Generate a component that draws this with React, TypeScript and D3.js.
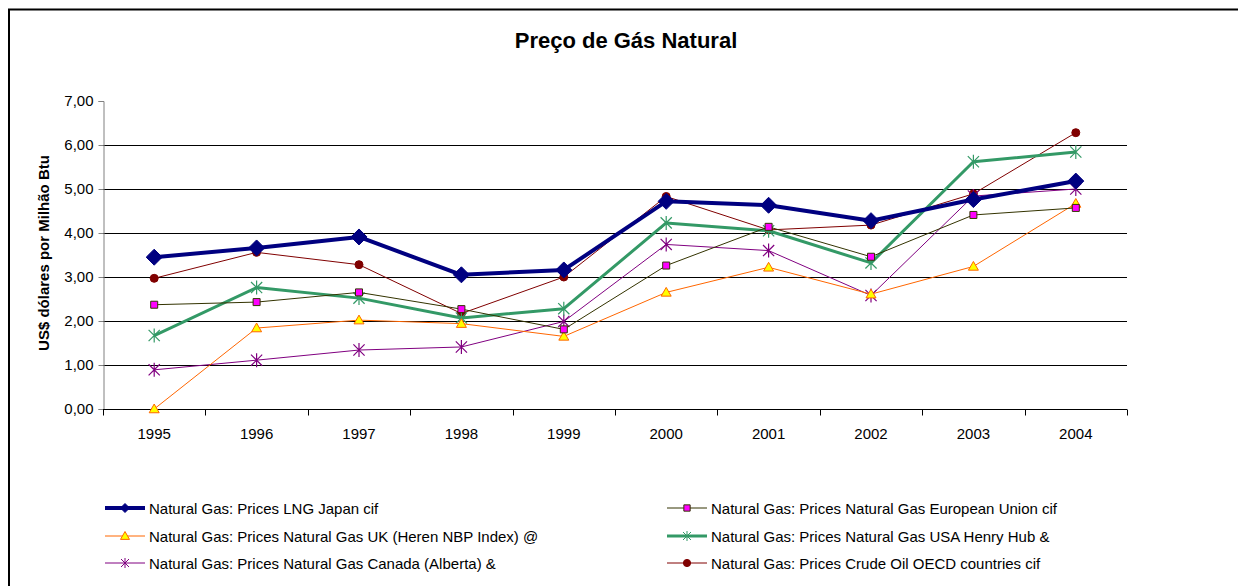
import React, { useEffect, useRef } from 'react';
import * as d3 from 'd3';

const years = ['1995', '1996', '1997', '1998', '1999', '2000', '2001', '2002', '2003', '2004'];

const japanLng = [3.45, 3.66, 3.91, 3.05, 3.16, 4.72, 4.63, 4.28, 4.76, 5.18];
const euGas = [2.37, 2.43, 2.65, 2.27, 1.81, 3.26, 4.14, 3.46, 4.41, 4.57];
const ukGas = [0.0, 1.84, 2.02, 1.94, 1.65, 2.65, 3.22, 2.61, 3.24, 4.67];
const usaGas = [1.67, 2.76, 2.52, 2.07, 2.28, 4.23, 4.05, 3.32, 5.62, 5.84];
const canadaGas = [0.89, 1.11, 1.34, 1.41, 1.99, 3.74, 3.6, 2.58, 4.84, 5.0];
const crudeOil = [2.97, 3.56, 3.28, 2.17, 3.0, 4.83, 4.07, 4.18, 4.89, 6.28];

const yTicks = [0, 1, 2, 3, 4, 5, 6, 7];

type Series = {
  name: string;
  values: number[];
  stroke: string;
  width: number;
  marker: 'diamond' | 'square' | 'triangle' | 'star' | 'circle';
  fill: string;
  edge: string;
  size: number;
};

const series: Series[] = [
  { name: 'Natural Gas: Prices LNG Japan cif', values: japanLng, stroke: '#000080', width: 4, marker: 'diamond', fill: '#000080', edge: '#000080', size: 8 },
  { name: 'Natural Gas: Prices Natural Gas European Union cif', values: euGas, stroke: '#333300', width: 1, marker: 'square', fill: '#ff00ff', edge: '#333300', size: 3.5 },
  { name: 'Natural Gas: Prices Natural Gas UK (Heren NBP Index) @', values: ukGas, stroke: '#ff6600', width: 1, marker: 'triangle', fill: '#ffff00', edge: '#ff6600', size: 5 },
  { name: 'Natural Gas: Prices Natural Gas USA Henry Hub &', values: usaGas, stroke: '#339966', width: 3, marker: 'star', fill: 'none', edge: '#339966', size: 7 },
  { name: 'Natural Gas: Prices Natural Gas Canada (Alberta) &', values: canadaGas, stroke: '#800080', width: 1, marker: 'star', fill: 'none', edge: '#800080', size: 7 },
  { name: 'Natural Gas: Prices Crude Oil OECD countries cif', values: crudeOil, stroke: '#800000', width: 1, marker: 'circle', fill: '#800000', edge: '#800000', size: 4 }
];

const markerPath = (m: Series['marker'], s: number) => {
  if (m === 'diamond') return `M0,${-s}L${s},0L0,${s}L${-s},0Z`;
  if (m === 'square') return `M${-s},${-s}H${s}V${s}H${-s}Z`;
  if (m === 'triangle') return `M0,${-s}L${s},${s * 0.75}L${-s},${s * 0.75}Z`;
  if (m === 'star') {
    const d = s * 0.8;
    return `M0,${-s}V${s}M${-d},${-d}L${d},${d}M${-d},${d}L${d},${-d}`;
  }
  return d3.symbol(d3.symbolCircle, Math.PI * s * s)() || '';
};

const App = () => {
  const svgRef = useRef<SVGSVGElement>(null);
  const width = 1238;
  const height = 586;
  const margin = { top: 101, right: 111, bottom: 177, left: 103 };

  useEffect(() => {
    const svg = d3.select(svgRef.current);
    svg.selectAll('*').remove();

    const font = 'Liberation Sans, Arial, sans-serif';

    svg.append('rect')
      .attr('x', 0).attr('y', 0).attr('width', width).attr('height', height)
      .attr('fill', '#fff');

    // outer chart frame
    svg.append('rect')
      .attr('x', 9).attr('y', 9.5).attr('width', width + 20).attr('height', height + 20)
      .attr('fill', 'none').attr('stroke', '#000').attr('stroke-width', 2);

    const chartWidth = width - margin.left - margin.right;
    const chartHeight = height - margin.top - margin.bottom;

    const x = d3.scaleBand().domain(years).range([0, chartWidth]);
    const y = d3.scaleLinear().domain([0, 7]).range([chartHeight, 0]);
    const fmt = (v: number) => d3.format('.2f')(v).replace('.', ',');

    const g = svg.append('g').attr('transform', `translate(${margin.left}, ${margin.top})`);

    // gridlines
    g.selectAll('.grid')
      .data(yTicks.filter(t => t > 0 && t < 7))
      .enter()
      .append('line')
      .attr('x1', 0).attr('x2', chartWidth)
      .attr('y1', d => Math.round(y(d)) + 0.5).attr('y2', d => Math.round(y(d)) + 0.5)
      .attr('stroke', '#000').attr('stroke-width', 1);

    // y axis
    const yAxis = g.append('g')
      .attr('transform', 'translate(0.5,0)')
      .call(d3.axisLeft(y).tickValues(yTicks).tickFormat(d => fmt(d as number)).tickSize(5).tickPadding(5));
    yAxis.select('.domain').attr('stroke', '#808080');
    yAxis.selectAll('.tick line').attr('stroke', '#808080');
    yAxis.selectAll('text').attr('font-family', font).attr('font-size', 15).attr('fill', '#000');

    // x axis with boundary ticks
    const xAxisG = g.append('g').attr('transform', `translate(0, ${chartHeight + 0.5})`);
    xAxisG.append('line').attr('x1', 0).attr('x2', chartWidth).attr('stroke', '#000');
    const bounds = d3.range(years.length + 1).map(i => i * x.bandwidth());
    xAxisG.selectAll('.xt').data(bounds).enter().append('line')
      .attr('x1', d => Math.round(d) + 0.5).attr('x2', d => Math.round(d) + 0.5)
      .attr('y1', 0).attr('y2', 6).attr('stroke', '#000');
    xAxisG.selectAll('.xl').data(years).enter().append('text')
      .attr('x', d => (x(d) || 0) + x.bandwidth() / 2)
      .attr('y', 29)
      .attr('text-anchor', 'middle')
      .attr('font-family', font).attr('font-size', 15)
      .text(d => d);

    const cx = (i: number) => (x(years[i]) || 0) + x.bandwidth() / 2;

    // lines (drawn in reverse so Japan sits on top)
    [...series].reverse().forEach(s => {
      const line = d3.line<number>()
        .x((_, i) => cx(i))
        .y(d => y(d));
      g.append('path')
        .datum(s.values)
        .attr('fill', 'none')
        .attr('stroke', s.stroke)
        .attr('stroke-width', s.width)
        .attr('stroke-linejoin', 'round')
        .attr('d', line);
      g.selectAll(null)
        .data(s.values)
        .enter()
        .append('path')
        .attr('transform', (d, i) => `translate(${cx(i)}, ${y(d)})`)
        .attr('d', markerPath(s.marker, s.size))
        .attr('fill', s.fill)
        .attr('stroke', s.edge)
        .attr('stroke-width', s.marker === 'star' ? 1.2 : 1);
    });

    // title
    svg.append('text')
      .attr('x', 626).attr('y', 48)
      .attr('text-anchor', 'middle')
      .attr('font-family', font).attr('font-weight', 'bold').attr('font-size', 22)
      .text('Preço de Gás Natural');

    // y axis title
    svg.append('text')
      .attr('transform', 'translate(49, 253) rotate(-90)')
      .attr('text-anchor', 'middle')
      .attr('font-family', font).attr('font-weight', 'bold').attr('font-size', 15)
      .text('US$ dólares por Milhão Btu');

    // legend
    const legendPos = [
      [105, 508], [667, 508],
      [105, 536], [667, 536],
      [105, 563], [667, 563]
    ];
    series.forEach((s, i) => {
      const row = svg.append('g').attr('transform', `translate(${legendPos[i][0]}, ${legendPos[i][1]})`);
      row.append('line')
        .attr('x1', 0).attr('x2', 40).attr('y1', 0).attr('y2', 0)
        .attr('stroke', s.stroke).attr('stroke-width', s.width);
      row.append('path')
        .attr('transform', 'translate(20,0)')
        .attr('d', markerPath(s.marker, s.marker === 'diamond' ? 4.5 : s.marker === 'star' ? 5 : s.size * 0.9))
        .attr('fill', s.fill)
        .attr('stroke', s.edge)
        .attr('stroke-width', 1);
      row.append('text')
        .attr('x', 44).attr('y', 5.5)
        .attr('font-family', font).attr('font-size', 15)
        .text(s.name);
    });
  }, []);

  return (
    <svg ref={svgRef} width={width} height={height}
      style={{ position: 'absolute', left: 0, top: 0, display: 'block' }} />
  );
};

export default App;
